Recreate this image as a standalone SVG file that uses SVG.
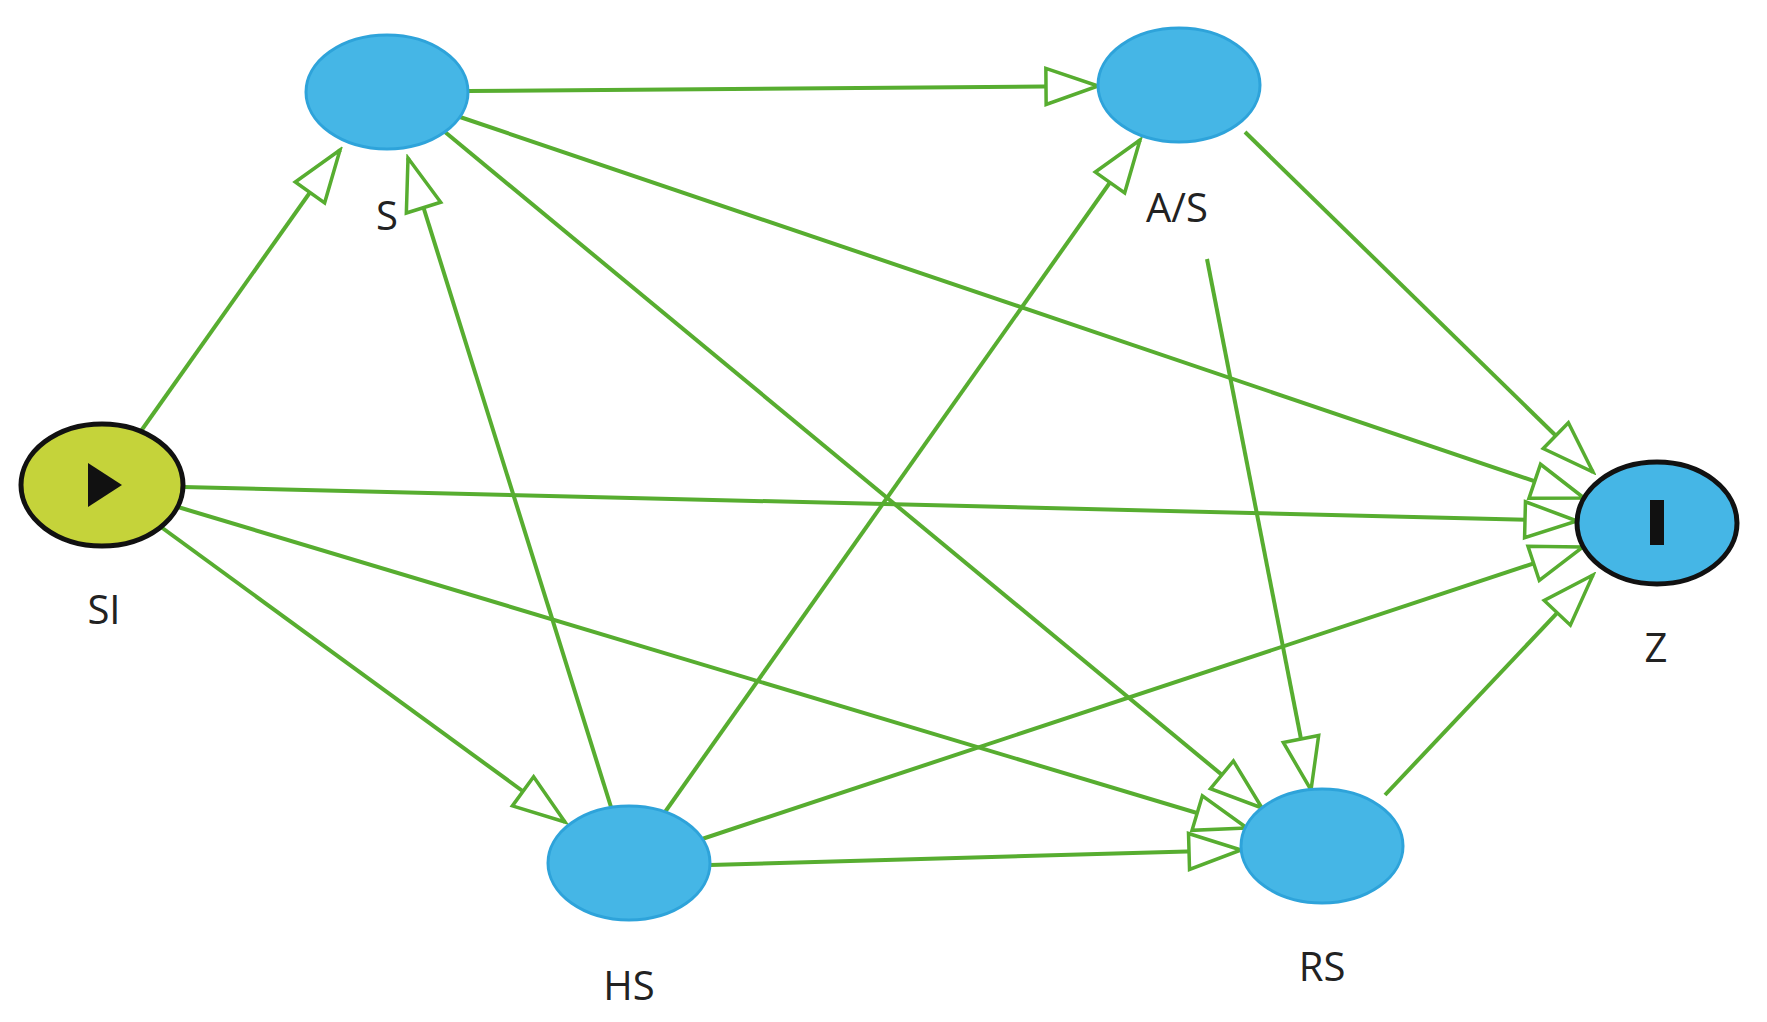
<svg xmlns="http://www.w3.org/2000/svg" width="1767" height="1022" viewBox="0 0 1767 1022">
<style>
.e{stroke:#57ad30;stroke-width:4;fill:none;marker-end:url(#a)}
.n{fill:#45b6e6;stroke:#2ea3da;stroke-width:3}
.t{font-family:"Open Sans","DejaVu Sans",sans-serif;font-size:40px;fill:#222;text-anchor:middle}
</style>
<defs>
<marker id="a" markerUnits="userSpaceOnUse" viewBox="-56 -22 60 44" refX="0" refY="0" markerWidth="60" markerHeight="44" orient="auto">
<path d="M0,0 L-52,-18 L-52,18 Z" fill="#fff" stroke="#57ad30" stroke-width="3.5"/>
</marker>
</defs>
<rect width="1767" height="1022" fill="#fff"/>
<g id="connectors">
<line class="e" x1="141" y1="431" x2="340" y2="150"/>
<line class="e" x1="183" y1="487" x2="1577" y2="521"/>
<line class="e" x1="161" y1="527" x2="565" y2="822"/>
<line class="e" x1="178" y1="507" x2="1247" y2="828"/>
<line class="e" x1="468" y1="91" x2="1098" y2="86"/>
<line class="e" x1="460" y1="117" x2="1584" y2="498"/>
<line class="e" x1="445" y1="132" x2="1262" y2="808"/>
<line class="e" x1="611" y1="807" x2="408" y2="158"/>
<line class="e" x1="665" y1="812" x2="1140" y2="140"/>
<line class="e" x1="702" y1="839" x2="1583" y2="547"/>
<line class="e" x1="710" y1="865" x2="1241" y2="850"/>
<line class="e" x1="1245" y1="132" x2="1593" y2="472"/>
<line class="e" x1="1207" y1="259" x2="1311" y2="790"/>
<line class="e" x1="1385" y1="795" x2="1593" y2="575"/>
</g>
<g id="S"><ellipse class="n" cx="387" cy="92" rx="81" ry="57"/><text class="t" x="387" y="230">S</text></g>
<g id="AS"><ellipse class="n" cx="1179" cy="85" rx="81" ry="57"/><text class="t" x="1177" y="222">A/S</text></g>
<g id="SI"><ellipse cx="102" cy="485" rx="81" ry="61" fill="#c5d33a" stroke="#111" stroke-width="5"/><path d="M88,463 L122,485 L88,507 Z" fill="#111"/><text class="t" x="104" y="624">SI</text></g>
<g id="Z"><ellipse cx="1657" cy="523" rx="80" ry="61" fill="#45b6e6" stroke="#111" stroke-width="5"/><rect x="1650" y="500" width="14" height="45" fill="#111"/><text class="t" x="1656" y="662">Z</text></g>
<g id="HS"><ellipse class="n" cx="629" cy="863" rx="81" ry="57"/><text class="t" x="629" y="1000">HS</text></g>
<g id="RS"><ellipse class="n" cx="1322" cy="846" rx="81" ry="57"/><text class="t" x="1322" y="981">RS</text></g>
</svg>
